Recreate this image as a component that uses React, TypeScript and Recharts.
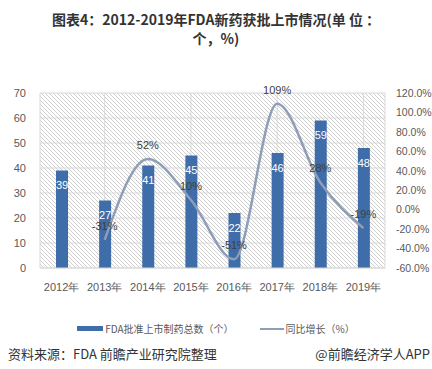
import { ComposedChart, Bar, Line, XAxis, YAxis, CartesianGrid, LabelList } from "recharts";

const years = ["2012年", "2013年", "2014年", "2015年", "2016年", "2017年", "2018年", "2019年"];
const approvals = [39, 27, 41, 45, 22, 46, 59, 48];
const growth: (number | null)[] = [null, -31, 52, 10, -51, 109, 28, -19];
const leftTicks = [0, 10, 20, 30, 40, 50, 60, 70];
const rightTicks = [-60, -40, -20, 0, 20, 40, 60, 80, 100, 120];

const data = years.map((year, i) => ({ year, approvals: approvals[i], growth: growth[i] }));

const axisFont = { fontSize: 11, fill: "#595959", fontFamily: "Liberation Sans, Arial, sans-serif" };
const cjk = "'Noto Sans CJK SC', 'Liberation Sans', sans-serif";

export default function App() {
  return (
    <div style={{ position: "absolute", left: 0, top: 0, width: 432, height: 369, background: "#fff", overflow: "hidden" }}>
      <svg width="0" height="0" style={{ position: "absolute" }}>
        <defs>
          <pattern id="hatch" width="4" height="4" patternUnits="userSpaceOnUse">
            <rect width="4" height="4" fill="#ffffff" />
            <path d="M-1,-1 L5,5 M3,-1 L5,1 M-1,3 L1,5" stroke="#c9c9c9" strokeWidth="0.9" />
          </pattern>
        </defs>
      </svg>
      <div
        style={{
          position: "absolute",
          top: 10,
          left: 0,
          width: 432,
          textAlign: "center",
          fontFamily: cjk,
          fontWeight: 700,
          fontSize: 14,
          lineHeight: "19px",
          color: "#333",
        }}
      >
        <div>图表4：2012-2019年FDA新药获批上市情况(单 位 ：</div>
        <div>个，%)</div>
      </div>
      <div style={{ position: "absolute", top: 0, left: 0 }}>
        <ComposedChart width={432} height={298} data={data} margin={{ top: 93, right: 0, bottom: 0, left: 0 }}>
          <CartesianGrid stroke="#d9d9d9" fill="url(#hatch)" yAxisId="left" />
          <XAxis
            dataKey="year"
            tick={axisFont}
            axisLine={{ stroke: "#d9d9d9" }}
            tickLine={false}
            height={30}
            tickMargin={9}
          />
          <YAxis
            yAxisId="left"
            domain={[0, 70]}
            ticks={leftTicks}
            tick={axisFont}
            axisLine={false}
            tickLine={false}
            width={40}
            tickMargin={8}
          />
          <YAxis
            yAxisId="right"
            orientation="right"
            domain={[-60, 120]}
            ticks={rightTicks}
            tick={{ ...axisFont, fontSize: 10.5 }}
            tickFormatter={(v) => `${v.toFixed(1)}%`}
            axisLine={false}
            tickLine={false}
            width={47}
            tickMargin={5}
          />
          <Bar yAxisId="left" dataKey="approvals" fill="#3F6DAA" barSize={12} isAnimationActive={false}>
            <LabelList
              dataKey="approvals"
              position="insideTop"
              offset={11}
              style={{ fontSize: 11, fill: "#ffffff", fontFamily: "Liberation Sans, Arial, sans-serif" }}
            />
          </Bar>
          <Line
            yAxisId="right"
            type="monotone"
            dataKey="growth"
            stroke="#8E9DB8"
            strokeWidth={2.5}
            dot={false}
            isAnimationActive={false}
          >
            <LabelList
              dataKey="growth"
              position="top"
              offset={10}
              formatter={(v: any) => (v == null ? "" : `${v}%`)}
              style={{ fontSize: 11, fill: "#404040", fontFamily: "Liberation Sans, Arial, sans-serif" }}
            />
          </Line>
        </ComposedChart>
      </div>
      <div
        style={{
          position: "absolute",
          top: 321,
          left: 0,
          width: 432,
          display: "flex",
          justifyContent: "center",
          alignItems: "center",
          fontFamily: cjk,
          fontSize: 10,
          color: "#595959",
        }}
      >
        <span style={{ display: "inline-block", width: 26, height: 5, background: "#3F6DAA", marginRight: 2 }} />
        <span>FDA批准上市制药总数（个）</span>
        <span style={{ display: "inline-block", width: 24, height: 2, background: "#8E9DB8", marginLeft: 26, marginRight: 2 }} />
        <span>同比增长（%）</span>
      </div>
      <div style={{ position: "absolute", top: 344, left: 8, fontFamily: cjk, fontSize: 13, color: "#333" }}>
        资料来源：FDA 前瞻产业研究院整理
      </div>
      <div style={{ position: "absolute", top: 344, right: 2, fontFamily: cjk, fontSize: 13, color: "#333" }}>
        @前瞻经济学人APP
      </div>
    </div>
  );
}
